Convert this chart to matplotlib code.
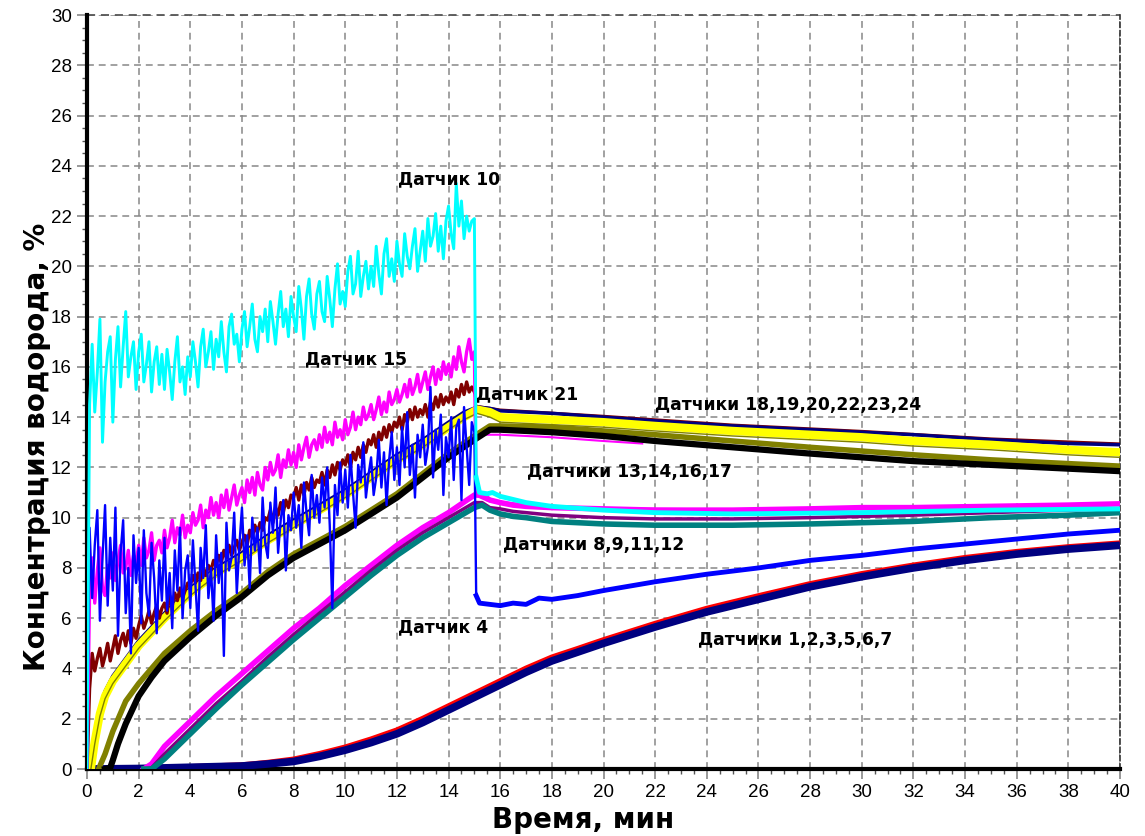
import numpy as np
import matplotlib
matplotlib.use("Agg")
import matplotlib.pyplot as plt

# ---------------- data ----------------
# noisy sensors, sampled every 0.1 min from 0 to 15 min
t_noisy = np.round(np.arange(0, 15.0001, 0.1), 2)

cyan10 = [0.0, 14.5, 16.9, 14.2, 15.8, 17.9, 13.0, 15.4, 16.6, 17.2,
          13.8, 16.3, 17.6, 15.2, 16.8, 18.2, 15.6, 16.4, 17.0, 15.1,
          16.6, 17.3, 15.4, 16.1, 17.0, 15.0, 16.2, 16.8, 15.3, 16.5,
          15.1, 16.7, 15.8, 14.7, 16.2, 17.2, 15.4, 16.0, 14.9, 16.4,
          15.6, 17.0, 16.2, 15.2, 16.8, 17.5, 16.0, 16.6, 17.4, 15.9,
          17.1, 16.4, 17.8, 16.6, 15.8, 17.6, 18.1, 16.9, 17.3, 16.2,
          17.5, 18.2, 16.8, 17.6, 18.5, 17.1, 16.6, 18.0, 17.4, 18.3,
          17.0, 18.6, 17.8, 16.9, 18.1, 19.0, 17.6, 18.3, 17.2, 18.8,
          18.0, 17.4, 19.2, 18.3, 17.1, 18.8, 19.5, 18.1, 17.5, 18.9,
          19.4, 18.2, 17.8, 19.6, 18.7, 17.6, 19.1, 20.1, 18.5, 19.0,
          18.4, 19.8, 20.4, 18.9, 19.3, 20.6, 18.8, 19.6, 20.2, 19.1,
          20.0, 19.2, 20.8, 19.7, 18.9, 20.5, 21.1, 19.6, 20.3, 19.4,
          21.0, 20.1, 19.6, 21.3, 20.4, 19.9, 20.8, 21.5, 19.8, 20.6,
          21.4, 20.2, 21.9, 20.8, 21.2, 22.1, 20.6, 21.6, 20.3, 21.8,
          22.4, 21.3, 20.7, 23.3, 21.6, 22.6, 21.1, 22.0, 21.4, 21.8,
          21.9]
cyan10_post_t = [15.07, 15.2, 15.5, 15.7, 16.0, 17.0, 18.0, 20.0, 22.0, 25.0, 30.0, 35.0, 40.0]
cyan10_post = [11.6, 11.0, 10.95, 11.0, 10.85, 10.6, 10.45, 10.3, 10.2, 10.15, 10.2, 10.3, 10.35]

mag15 = [0.0, 7.0, 8.4, 6.6, 7.9, 8.8, 7.2, 6.9, 8.1, 7.6,
         8.6, 7.5, 8.3, 8.9, 7.8, 8.0, 8.7, 7.7, 8.5, 8.2,
         8.9, 8.1, 9.2, 8.4, 8.7, 9.4, 8.3, 8.9, 9.1, 8.6,
         9.5, 8.8, 9.2, 9.9, 9.0, 9.6, 9.3, 10.1, 9.2, 9.7,
         9.4, 10.2, 9.7, 9.9, 10.5, 9.6, 10.3, 10.0, 10.8, 10.1,
         10.6, 10.0, 10.9, 10.4, 11.1, 10.3, 10.8, 11.3, 10.5, 10.9,
         11.2, 10.6, 11.5, 11.0, 11.6, 10.9, 11.8, 11.3, 11.1, 12.0,
         11.5, 12.2, 11.7, 11.9, 12.5, 11.6, 12.3, 12.0, 12.7, 12.1,
         12.6, 12.0, 12.9, 12.3, 12.8, 13.2, 12.4, 12.9, 13.1, 12.7,
         13.3, 12.8, 13.6, 13.0, 13.4, 12.9, 13.8, 13.2, 13.5, 13.1,
         13.9, 13.3, 13.6, 14.2, 13.5, 14.0, 13.7, 14.4, 13.9, 14.1,
         14.5, 13.9, 14.3, 14.8, 14.1, 14.6, 14.2, 15.0, 14.5, 14.7,
         15.1, 14.6, 14.9, 15.3, 14.8, 15.5, 14.9, 15.2, 15.7, 15.0,
         15.4, 15.8, 15.1, 15.6, 16.0, 15.3, 15.9, 15.5, 16.2, 15.7,
         16.1, 15.6, 16.4, 15.9, 16.8, 16.2, 15.8, 16.6, 17.1, 16.3,
         16.6]
mag15_post_t = [15.07, 15.5, 16.0, 17.0, 18.0, 20.0, 25.0, 30.0, 35.0, 40.0]
mag15_post = [10.9, 10.7, 10.6, 10.5, 10.4, 10.35, 10.3, 10.4, 10.45, 10.55]

brown21 = [0.0, 3.2, 4.6, 3.9, 4.4, 4.8, 4.1, 4.5, 5.0, 4.3,
           4.8, 5.3, 4.6, 5.1, 5.4, 4.9, 5.5, 5.0, 5.6, 5.2,
           5.7, 6.1, 5.6, 5.9, 6.3, 5.8, 6.2, 6.5, 6.0, 6.4,
           6.6, 6.2, 6.9, 6.5, 7.0, 6.7, 7.2, 6.8, 7.1, 7.4,
           7.3, 7.7, 7.4, 7.8, 7.5, 8.0, 7.7, 8.1, 7.9, 8.3,
           8.1, 8.5, 8.2, 8.7, 8.4, 8.9, 8.5, 8.8, 9.1, 8.7,
           9.0, 9.3, 8.9, 9.5, 9.2, 9.7, 9.4, 9.8, 9.5, 10.0,
           9.9, 10.3, 9.8, 10.4, 10.1, 10.6, 10.2, 10.7, 10.4, 10.9,
           10.8, 11.2, 10.7, 11.3, 10.9, 11.4, 11.1, 11.6, 11.2, 11.5,
           11.4, 11.8, 11.3, 11.9, 11.6, 12.1, 11.7, 12.2, 11.9, 12.3,
           12.1, 12.5, 12.0, 12.6, 12.3, 12.8, 12.4, 12.9, 12.6, 13.1,
           12.9, 13.3, 12.8, 13.4, 13.1, 13.6, 13.2, 13.7, 13.4, 13.8,
           13.6, 14.0, 13.5, 14.1, 13.8, 14.3, 13.9, 14.4, 14.0, 14.3,
           14.1, 14.5, 14.0, 14.6, 14.3, 14.8, 14.4, 14.9, 14.5, 14.8,
           14.6, 15.0, 14.5, 15.1, 14.8, 15.3, 14.9, 15.4, 15.0, 15.2,
           15.0]
brown21_post_t = [15.0, 15.07, 16.0, 20.0, 25.0, 30.0, 35.0, 40.0]
brown21_post = [15.0, 14.45, 14.3, 14.05, 13.7, 13.45, 13.15, 12.95]

blue4 = [0.0, 9.6, 6.8, 8.9, 10.3, 5.9, 8.4, 10.5, 6.5, 9.2,
         7.1, 10.4, 5.3, 8.6, 9.9, 6.2, 8.0, 4.6, 9.3, 7.4,
         8.8, 5.8, 9.5, 7.0, 6.1, 9.0, 7.6, 5.4, 8.3, 6.7,
         9.2, 6.3, 7.8, 5.6, 8.7, 7.1, 9.6, 6.0, 7.9, 8.5,
         6.4, 9.1, 7.3, 5.5, 8.8, 7.6, 9.7, 6.8, 8.0, 5.9,
         9.3, 7.4, 8.6, 4.5, 9.8, 7.9, 8.4, 10.2, 7.0, 8.9,
         10.4, 8.1, 9.3, 7.2, 10.0, 8.7, 9.6, 7.8, 10.8, 9.0,
         8.4, 10.6, 9.4, 11.2, 8.6, 9.9, 10.7, 7.9, 10.1, 9.5,
         11.0, 9.6, 10.5, 8.8, 11.4, 10.2, 9.3, 11.7, 10.0, 10.9,
         9.8, 11.6, 10.4, 12.0, 9.7, 6.4, 11.3, 10.1, 12.2, 10.6,
         11.9, 10.4, 12.5, 11.0, 9.6, 12.1, 11.4, 13.0, 10.8, 11.7,
         12.4, 10.9, 11.6, 13.1, 11.2, 12.6, 10.5, 12.3, 13.4, 11.5,
         12.8, 11.3, 13.6, 12.0, 14.2, 11.7, 12.9, 10.8, 13.3, 12.4,
         13.7, 12.1, 12.8, 15.2, 11.6, 13.5, 12.7, 14.1, 10.9, 13.2,
         12.4, 14.0, 11.5, 13.6, 13.9, 10.7, 14.4, 12.8, 11.3, 13.8,
         13.4]
blue4_post_t = [15.07, 15.2, 15.6, 16.0, 16.5, 17.0, 17.5, 18.0, 19.0, 20.0, 22.0, 24.0,
                26.0, 28.0, 30.0, 32.0, 34.0, 36.0, 38.0, 40.0]
blue4_post = [6.9, 6.6, 6.55, 6.5, 6.6, 6.55, 6.8, 6.75, 6.9, 7.1, 7.45, 7.75,
              8.0, 8.3, 8.5, 8.75, 8.95, 9.15, 9.35, 9.5]

# sensors 18,19,20,22,23,24
t_g18 = [0.15, 0.3, 0.5, 0.7, 1.0, 1.5, 2, 3, 4, 5, 6, 7, 8, 9, 10, 11, 12, 13, 14, 14.6,
         15.1, 15.6, 16, 18, 20, 22, 25, 28, 30, 32, 35, 38, 40]
g18_yellow = [0, 1.1, 2.2, 2.9, 3.5, 4.2, 4.9, 6.0, 7.0, 7.8, 8.4, 9.1, 9.7, 10.3, 10.9, 11.6,
              12.3, 12.9, 13.6, 14.0, 14.3, 14.2, 14.0, 13.9, 13.8, 13.65, 13.45, 13.3, 13.2,
              13.05, 12.9, 12.7, 12.6]
g18_navy = [0, 1.3, 2.4, 3.1, 3.7, 4.4, 5.1, 6.2, 7.2, 8.0, 8.6, 9.3, 9.9, 10.5, 11.1, 11.8,
            12.5, 13.1, 13.8, 14.2, 14.4, 14.35, 14.25, 14.15, 14.0, 13.85, 13.65, 13.5, 13.4,
            13.3, 13.1, 12.95, 12.9]
g18_olive = [0, 1.0, 2.1, 2.8, 3.4, 4.1, 4.8, 5.9, 6.9, 7.7, 8.3, 9.0, 9.6, 10.2, 10.8, 11.5,
             12.2, 12.8, 13.5, 13.9, 14.15, 14.0, 13.8, 13.7, 13.6, 13.45, 13.25, 13.1, 13.0,
             12.85, 12.7, 12.5, 12.4]

# sensors 13,14,16,17
t_g13 = [0.7, 0.9, 1.0, 1.2, 1.5, 2, 2.5, 3, 4, 5, 6, 7, 8, 9, 10, 11, 12, 13, 14, 15,
         15.6, 16, 18, 20, 22, 25, 28, 30, 32, 35, 38, 40]
g13_black = [0, 0.05, 0.35, 1.0, 1.8, 2.9, 3.65, 4.3, 5.25, 6.1, 6.85, 7.7, 8.4, 8.95, 9.5,
             10.15, 10.8, 11.6, 12.4, 13.1, 13.5, 13.5, 13.4, 13.25, 13.05, 12.8, 12.55, 12.4,
             12.25, 12.1, 11.95, 11.85]
t_g13_olive = [0.45, 0.7, 1.0, 1.5, 2, 2.5, 3, 4, 5, 6, 7, 8, 9, 10, 11, 12, 13, 14, 15,
               15.6, 16, 18, 20, 22, 25, 28, 30, 32, 35, 38, 40]
g13_olive = [0, 0.6, 1.5, 2.7, 3.4, 4.0, 4.6, 5.5, 6.3, 7.0, 7.85, 8.55, 9.1, 9.65, 10.3,
             10.95, 11.75, 12.55, 13.25, 13.65, 13.65, 13.6, 13.45, 13.3, 13.05, 12.8, 12.65,
             12.5, 12.3, 12.15, 12.05]
t_g13_mag = [15.3, 16, 18, 20, 21.5]
g13_mag = [13.3, 13.3, 13.2, 13.05, 12.95]

# sensors 8,9,11,12
t_g8 = [2.2, 2.5, 3, 3.5, 4, 5, 6, 7, 8, 9, 10, 11, 12, 13, 14, 15, 15.3, 15.6, 16, 16.5,
        17, 18, 20, 22, 25, 28, 30, 32, 35, 38, 40]
g8_magenta = [0, 0.2, 0.9, 1.4, 1.9, 2.9, 3.8, 4.7, 5.6, 6.4, 7.3, 8.1, 8.9, 9.6, 10.2, 10.9,
              10.9, 10.7, 10.6, 10.5, 10.45, 10.4, 10.35, 10.3, 10.3, 10.35, 10.4, 10.4, 10.45,
              10.5, 10.55]
g8_purple = [0, 0.05, 0.6, 1.1, 1.6, 2.6, 3.5, 4.45, 5.35, 6.2, 7.05, 7.9, 8.7, 9.4, 10.0, 10.6,
             10.6, 10.4, 10.35, 10.25, 10.2, 10.1, 10.0, 9.95, 9.95, 10.0, 10.05, 10.1, 10.2,
             10.3, 10.35]
g8_teal = [0, 0.0, 0.4, 0.9, 1.4, 2.4, 3.35, 4.25, 5.15, 6.0, 6.85, 7.7, 8.5, 9.2, 9.8, 10.4,
           10.5, 10.3, 10.15, 10.05, 10.0, 9.85, 9.75, 9.7, 9.7, 9.75, 9.8, 9.85, 10.0, 10.1,
           10.2]

# sensors 1,2,3,5,6,7
t_g1 = [0, 2, 4, 6, 7, 8, 9, 10, 11, 12, 13, 14, 15, 16, 17, 18, 19, 20, 22, 24, 26, 28,
        30, 32, 34, 36, 38, 40]
g1_navy = [0, 0.02, 0.07, 0.12, 0.2, 0.3, 0.5, 0.75, 1.05, 1.4, 1.85, 2.35, 2.85, 3.35,
           3.85, 4.3, 4.65, 5.0, 5.65, 6.25, 6.75, 7.25, 7.65, 8.0, 8.3, 8.55, 8.75, 8.9]
g1_red = [0, 0.03, 0.1, 0.17, 0.27, 0.4, 0.62, 0.88, 1.2, 1.56, 2.02, 2.52, 3.02, 3.52,
          4.02, 4.46, 4.8, 5.15, 5.8, 6.4, 6.9, 7.38, 7.78, 8.12, 8.42, 8.66, 8.85, 9.0]

labels = ["Датчик 10", "Датчик 15", "Датчик 21", "Датчики 18,19,20,22,23,24",
          "Датчики 13,14,16,17", "Датчики 8,9,11,12", "Датчик 4", "Датчики 1,2,3,5,6,7"]
label_t = [12.05, 8.45, 15.05, 22.0, 17.05, 16.1, 12.05, 23.65]
label_v = [23.45, 16.3, 14.9, 14.5, 11.8, 8.9, 5.65, 5.15]

x_ticks = list(range(0, 41, 2))
y_ticks = list(range(0, 31, 2))

# ---------------- plot ----------------
plt.rcParams['font.family'] = ['Liberation Sans', 'DejaVu Sans']
fig = plt.figure(figsize=(11.45, 8.36), dpi=100)
ax = fig.add_axes([87 / 1145, 67 / 836, (1120 - 87) / 1145, (769 - 15) / 836])

ax.set_xlim(0, 40)
ax.set_ylim(0, 30)
ax.set_xticks(x_ticks)
ax.set_yticks(y_ticks)
ax.set_xticks(np.arange(0, 40.01, 0.5), minor=True)
ax.set_yticks(np.arange(0, 30.01, 0.5), minor=True)
ax.grid(True, which='major', color='#888888', linestyle=(0, (4.5, 3.2)), linewidth=1.1, zorder=0)
ax.set_axisbelow(True)

ax.spines['left'].set_linewidth(3)
ax.spines['bottom'].set_linewidth(3)
ax.spines['top'].set_visible(False)
ax.spines['right'].set_linestyle((0, (3, 2)))
ax.spines['right'].set_color('#333333')
ax.spines['right'].set_linewidth(1.2)
ax.axhline(30, color='#555555', linestyle=(0, (4.5, 3.2)), linewidth=1.3, clip_on=False, zorder=1)

ax.tick_params(axis='both', which='major', direction='out', length=7, width=1.2,
               color='#888888', labelsize=13.5, pad=4)
ax.tick_params(axis='both', which='minor', direction='out', length=3.5, width=1,
               color='#555555')

# group 1,2,3,5,6,7
ax.plot(t_g1, g1_red, color='#ff0000', lw=3.5, zorder=3, solid_capstyle='butt')
ax.plot(t_g1, g1_navy, color='#000080', lw=5.5, zorder=3.1, solid_capstyle='butt')

# group 8,9,11,12
ax.plot(t_g8, g8_magenta, color='#ff00ff', lw=4, zorder=3.2)
ax.plot(t_g8, g8_purple, color='#800080', lw=2.5, zorder=3.3)
ax.plot(t_g8, g8_teal, color='#008080', lw=4, zorder=3.4)

# group 13,14,16,17
ax.plot(t_g13_mag, g13_mag, color='#ff00ff', lw=1.5, zorder=3.5)
ax.plot(t_g13_olive, g13_olive, color='#808000', lw=4, zorder=3.6)
ax.plot(t_g13, g13_black, color='#000000', lw=4.5, zorder=3.7)

# group 18..24
ax.plot(brown21_post_t, brown21_post, color='#800000', lw=1.6, zorder=3.75)
ax.plot(t_g18, g18_navy, color='#000080', lw=2.5, zorder=3.8)
ax.plot(t_g18, g18_yellow, color='#ffff00', lw=6, zorder=3.9)
ax.plot(t_g18, g18_olive, color='#808000', lw=1.0, zorder=4.0)

# noisy sensors
ax.plot(t_noisy, brown21, color='#800000', lw=2.4, zorder=4.2)
ax.plot(list(t_noisy) + mag15_post_t, mag15 + mag15_post, color='#ff00ff', lw=2.4, zorder=4.3)
ax.plot(list(t_noisy) + blue4_post_t, blue4 + blue4_post, color='#0000ff', lw=1.7, zorder=4.4)
ax.plot(blue4_post_t, blue4_post, color='#0000ff', lw=3.5, zorder=4.4)
ax.plot(list(t_noisy) + cyan10_post_t, cyan10 + cyan10_post, color='#00ffff', lw=2.1, zorder=4.5)
ax.plot(cyan10_post_t, cyan10_post, color='#00ffff', lw=3.5, zorder=4.5)

for txt, tx, ty in zip(labels, label_t, label_v):
    ax.text(tx, ty, txt, ha='left', va='center', fontsize=12.3, fontweight='bold',
            family=['DejaVu Sans'], zorder=6)

ax.set_xlabel("Время, мин", fontsize=20, fontweight='bold', family=['DejaVu Sans'])
ax.set_ylabel("Концентрация водорода, %", fontsize=20, fontweight='bold', family=['DejaVu Sans'])
ax.xaxis.set_label_coords((583 - 87) / 1033, -(820 - 769) / 754)
ax.yaxis.set_label_coords(-(87 - 37) / 1033, (769 - 447) / 754)
ax.xaxis.label.set_va('center')
ax.yaxis.label.set_va('center')

fig.savefig("out.png", dpi=100)
